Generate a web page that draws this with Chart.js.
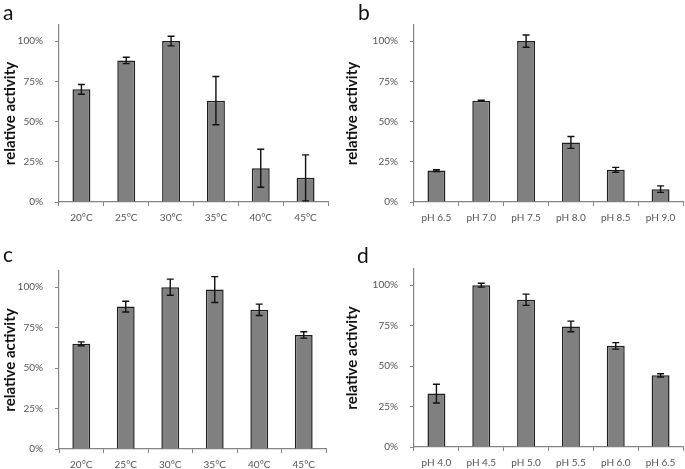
<!DOCTYPE html>
<html>
<head>
<meta charset="utf-8">
<script src="https://cdn.jsdelivr.net/npm/chart.js@4"></script>
<style>
  body { margin: 0; background: #fff; }
  #wrap { position: relative; width: 685px; height: 469px; overflow: hidden; }
  canvas { position: absolute; }
  .tag { position: absolute; font-family: Lato, sans-serif; font-size: 21px; color: #111; line-height: 1; }
</style>
</head>
<body>
<div id="wrap">
  <canvas id="ca" width="342" height="234" style="left:0;top:0"></canvas>
  <canvas id="cb" width="343" height="234" style="left:342px;top:0"></canvas>
  <canvas id="cc" width="342" height="235" style="left:0;top:234px"></canvas>
  <canvas id="cd" width="343" height="235" style="left:342px;top:234px"></canvas>
  <div class="tag" style="left:3px;top:1px">a</div>
  <div class="tag" style="left:358px;top:1px">b</div>
  <div class="tag" style="left:3px;top:243px">c</div>
  <div class="tag" style="left:357px;top:244px">d</div>
</div>
<script>
// temperature panels (a, c)
const tempLabels = ["20°C", "25°C", "30°C", "35°C", "40°C", "45°C"];
const tempA = [70, 88, 100, 63, 21, 15];
const tempAErr = [3, 2, 3, 15, 11.8, 14.3];
const tempC = [65, 88, 100, 98.5, 86, 70.5];
const tempCErr = [1.2, 3.3, 5, 8, 3.5, 2];

// pH panels (b, d)
const phLabelsB = ["pH 6.5", "pH 7.0", "pH 7.5", "pH 8.0", "pH 8.5", "pH 9.0"];
const phB = [19.5, 63, 100, 37, 20, 8];
const phBErr = [0.5, 0.2, 3.8, 3.7, 1.5, 2];
const phLabelsD = ["pH 4.0", "pH 4.5", "pH 5.0", "pH 5.5", "pH 6.0", "pH 6.5"];
const phD = [33, 100, 91, 74.5, 62.5, 44.3];
const phDErr = [5.8, 1.2, 3.5, 3.3, 2, 1];

const yTicks = [0, 25, 50, 75, 100];

const FONT = "Lato, 'Liberation Sans', sans-serif";
const AXIS = "#858585";

// draws the ± error bars on top of each bar
const errorBars = {
  id: "errorBars",
  afterDatasetsDraw(chart) {
    const ctx = chart.ctx;
    const y = chart.scales.y;
    const ds = chart.data.datasets[0];
    const meta = chart.getDatasetMeta(0);
    ctx.save();
    ctx.strokeStyle = "#111";
    ctx.lineWidth = 1.4;
    meta.data.forEach((bar, i) => {
      const v = ds.data[i], e = ds.errors[i];
      const top = y.getPixelForValue(v + e);
      const bot = y.getPixelForValue(Math.max(0, v - e));
      const cap = 3.5;
      ctx.beginPath();
      ctx.moveTo(bar.x, top); ctx.lineTo(bar.x, bot);
      ctx.moveTo(bar.x - cap, top); ctx.lineTo(bar.x + cap, top);
      ctx.moveTo(bar.x - cap, bot); ctx.lineTo(bar.x + cap, bot);
      ctx.stroke();
    });
    ctx.restore();
  }
};

function makePanel(id, labels, values, errors, area) {
  const canvas = document.getElementById(id);
  return new Chart(canvas, {
    type: "bar",
    data: {
      labels: labels,
      datasets: [{
        data: values,
        errors: errors,
        backgroundColor: "#808080",
        borderColor: "#1e1e1e",
        borderWidth: 1.5,
        barPercentage: 0.4,
        categoryPercentage: 1,
      }],
    },
    options: {
      responsive: false,
      animation: false,
      devicePixelRatio: 1,
      layout: {
        padding: { top: area.top, right: canvas.width - area.right, bottom: 0, left: 0 },
      },
      plugins: { legend: { display: false }, tooltip: { enabled: false } },
      scales: {
        x: {
          offset: true,
          grid: { drawOnChartArea: false, tickLength: 4, color: AXIS, offset: true },
          border: { color: AXIS, width: 1.2 },
          ticks: { font: { family: FONT, size: 10 }, color: "#555", padding: 6, maxRotation: 0 },
          afterFit: s => { s.height = canvas.height - area.bottom; },
        },
        y: {
          min: 0,
          max: 110,
          grid: { drawOnChartArea: false, tickLength: 4, color: AXIS },
          border: { color: AXIS, width: 1.2 },
          ticks: {
            stepSize: 25,
            font: { family: FONT, size: 10 },
            color: "#555",
            padding: 12,
            callback: v => v + "%",
          },
          afterBuildTicks: s => { s.ticks = yTicks.map(v => ({ value: v })); },
          title: {
            display: true,
            text: "relative activity",
            color: "#111",
            font: { family: FONT, size: 15, weight: "bold" },
            padding: { top: 1, bottom: 0 },
          },
          afterFit: s => { s.width = area.left; },
        },
      },
    },
    plugins: [errorBars],
  });
}

makePanel("ca", tempLabels, tempA, tempAErr, { left: 59, right: 328, top: 25, bottom: 202 });
makePanel("cb", phLabelsB, phB, phBErr, { left: 72, right: 341, top: 25, bottom: 202 });
makePanel("cc", tempLabels, tempC, tempCErr, { left: 59, right: 326, top: 37, bottom: 215 });
makePanel("cd", phLabelsD, phD, phDErr, { left: 72, right: 341, top: 35, bottom: 213 });
</script>
</body>
</html>
